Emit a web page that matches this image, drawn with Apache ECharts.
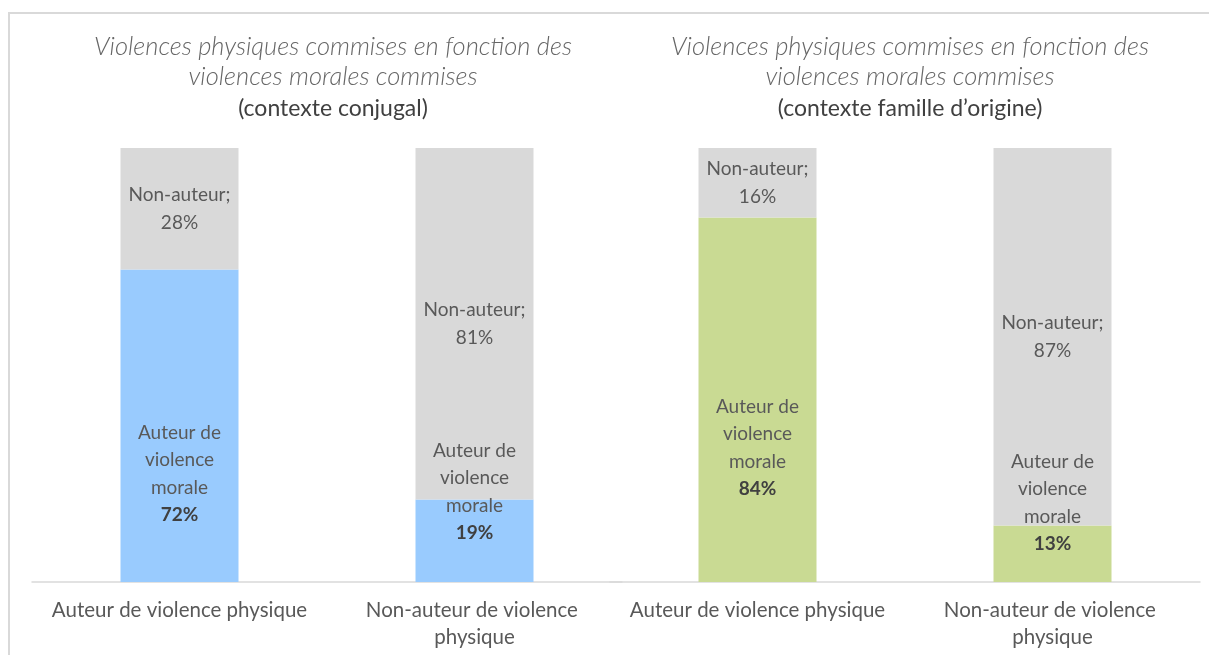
<!DOCTYPE html>
<html>
<head>
<meta charset="utf-8">
<script src="https://cdn.jsdelivr.net/npm/echarts@6/dist/echarts.min.js"></script>
<style>
  html, body { margin: 0; padding: 0; background: #fff; }
  #chart { width: 1209px; height: 655px; }
</style>
</head>
<body>
<div id="chart"></div>
<script>
// catégories et valeurs (%)
const categories = ['Auteur de violence physique', 'Non-auteur de violence physique']
const conjugalAuteur = [72, 19]
const conjugalNonAuteur = [28, 81]
const familleAuteur = [84, 13]
const familleNonAuteur = [16, 87]

// décalage vertical des étiquettes "Auteur de violence morale" (déplacées à la main dans l'original)
const auteurLabelShift = [48, -49]
const auteurLabelShift2 = [48, -51]

const font = 'Lato, "Open Sans", sans-serif'
const txt = '#595959'

const chart = echarts.init(document.getElementById('chart'))

const titleText = ctx =>
  '{i|Violences physiques commises en fonction des}\n{i|violences morales commises}\n{n|(' + ctx + ')}'

const titleStyle = {
  fontFamily: font,
  fontWeight: 'normal',
  rich: {
    i: { fontSize: 25.5, fontStyle: 'italic', fontWeight: 300, color: '#666666', lineHeight: 30, fontFamily: font },
    n: { fontSize: 23, fontWeight: 'normal', color: '#404040', lineHeight: 33, fontFamily: font }
  }
}

const auteurLabel = () => ({
  show: true,
  position: 'inside',
  fontFamily: font,
  formatter: p => '{t|Auteur de}\n{t|violence}\n{t|morale}\n{b|' + p.value + '%}',
  rich: {
    t: { fontSize: 19, color: txt, lineHeight: 27.5, fontFamily: font },
    b: { fontSize: 19, color: '#404040', fontWeight: 'bold', lineHeight: 27.5, fontFamily: font }
  }
})

const nonAuteurLabel = {
  show: true,
  position: 'inside',
  fontFamily: font,
  fontSize: 19,
  color: txt,
  lineHeight: 27.5,
  formatter: p => 'Non-auteur;\n' + p.value + '%'
}

const withShift = (values, shift) =>
  values.map((v, i) => ({ value: v, label: { offset: [0, shift[i]] } }))

const xAxisBase = gridIndex => ({
  type: 'category',
  gridIndex: gridIndex,
  data: categories,
  axisTick: { show: false },
  axisLine: { lineStyle: { color: '#d9d9d9', width: 1.5 } },
  axisLabel: {
    color: txt,
    fontFamily: font,
    fontSize: 20.5,
    lineHeight: 27,
    margin: 15,
    width: 275,
    overflow: 'break',
    interval: 0
  }
})

const yAxisBase = gridIndex => ({
  type: 'value',
  gridIndex: gridIndex,
  min: 0,
  max: 100,
  show: false
})

const option = {
  backgroundColor: '#fff',
  animation: false,
  graphic: [
    {
      type: 'rect',
      shape: { x: 9, y: 13, width: 1400, height: 800 },
      style: { fill: 'none', stroke: '#d9d9d9', lineWidth: 2 },
      silent: true
    }
  ],
  title: [
    { text: titleText('contexte conjugal'), left: 328, top: 27, textAlign: 'center', textStyle: titleStyle },
    { text: titleText('contexte famille d’origine'), left: 905, top: 27, textAlign: 'center', textStyle: titleStyle }
  ],
  grid: [
    { left: 32, width: 590, top: 148, bottom: 73 },
    { left: 610, width: 590, top: 148, bottom: 73 }
  ],
  xAxis: [xAxisBase(0), xAxisBase(1)],
  yAxis: [yAxisBase(0), yAxisBase(1)],
  series: [
    {
      name: 'Auteur de violence morale',
      type: 'bar',
      stack: 'a',
      xAxisIndex: 0,
      yAxisIndex: 0,
      barWidth: '40%',
      itemStyle: { color: '#99cbfe' },
      label: auteurLabel(),
      data: withShift(conjugalAuteur, auteurLabelShift)
    },
    {
      name: 'Non-auteur',
      type: 'bar',
      stack: 'a',
      xAxisIndex: 0,
      yAxisIndex: 0,
      barWidth: '40%',
      itemStyle: { color: '#d9d9d9' },
      label: nonAuteurLabel,
      data: conjugalNonAuteur
    },
    {
      name: 'Auteur de violence morale',
      type: 'bar',
      stack: 'b',
      xAxisIndex: 1,
      yAxisIndex: 1,
      barWidth: '40%',
      itemStyle: { color: '#c9da93' },
      label: auteurLabel(),
      data: withShift(familleAuteur, auteurLabelShift2)
    },
    {
      name: 'Non-auteur',
      type: 'bar',
      stack: 'b',
      xAxisIndex: 1,
      yAxisIndex: 1,
      barWidth: '40%',
      itemStyle: { color: '#d9d9d9' },
      label: nonAuteurLabel,
      data: familleNonAuteur
    }
  ]
}

chart.setOption(option)
</script>
</body>
</html>
